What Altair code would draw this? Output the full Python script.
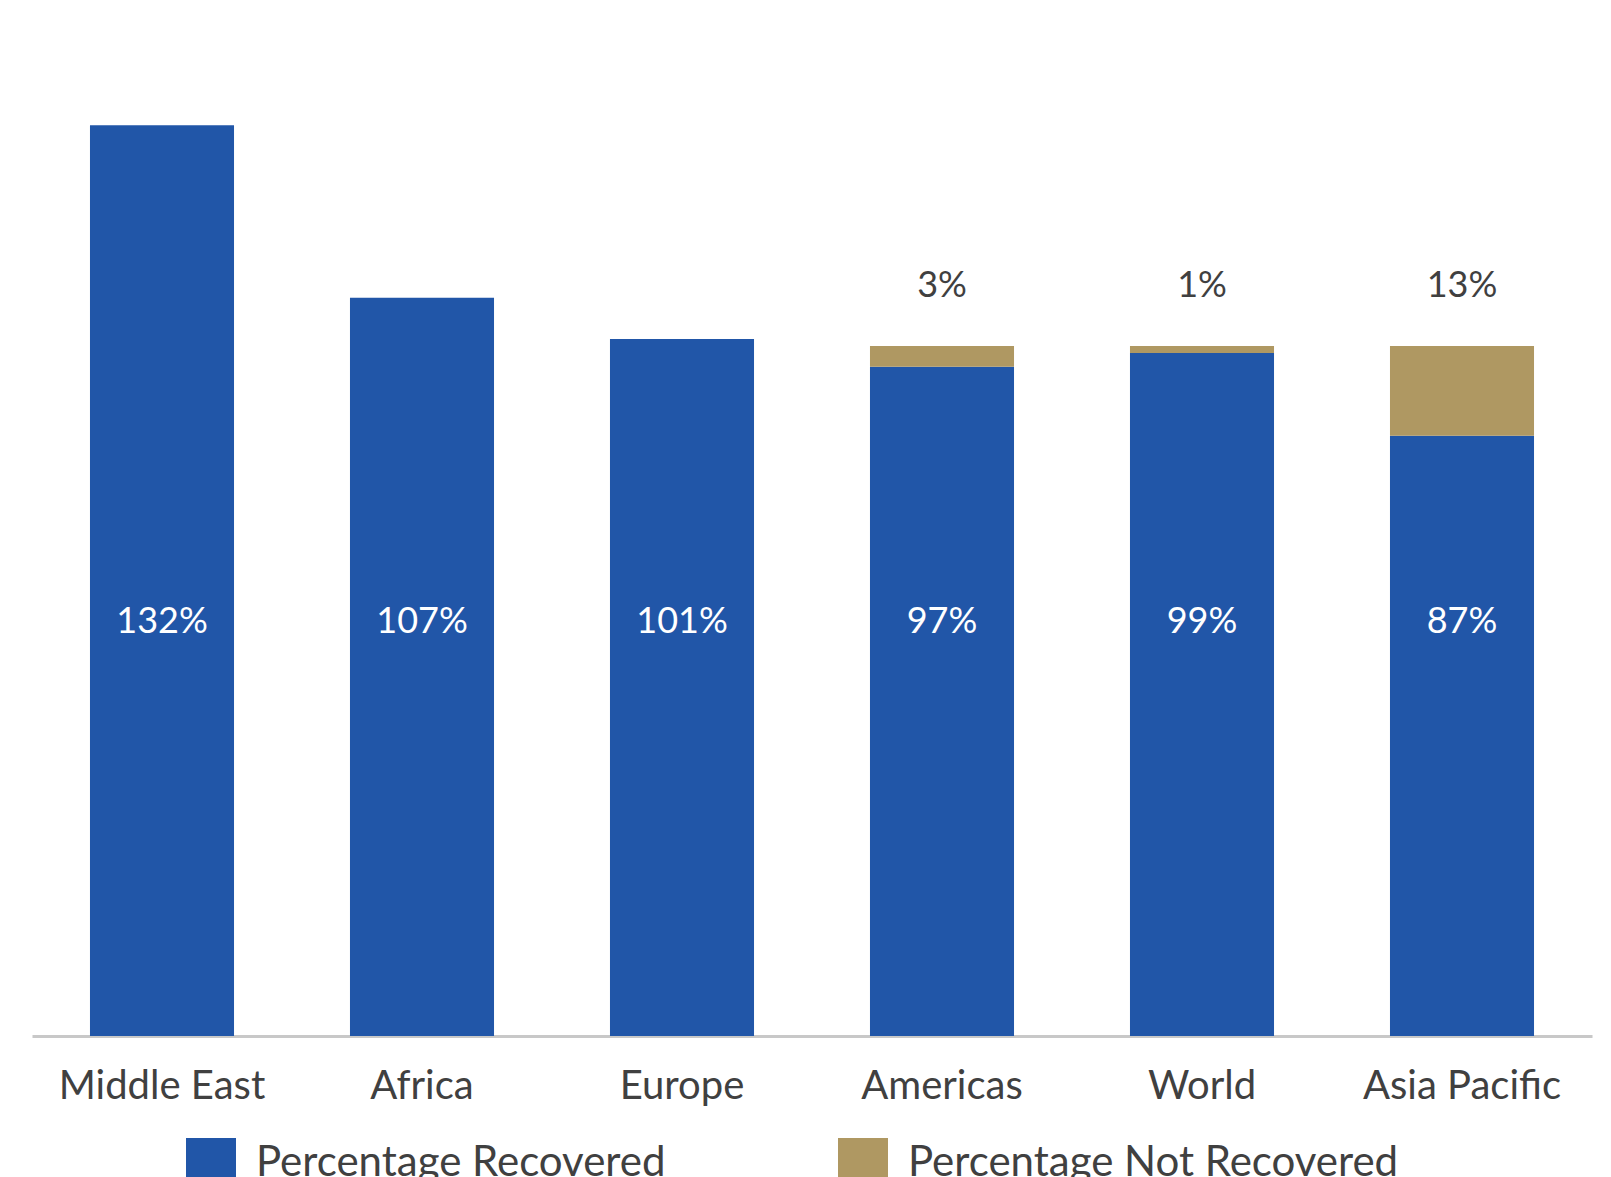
import altair as alt
import pandas as pd

regions = ["Middle East", "Africa", "Europe", "Americas", "World", "Asia Pacific"]
recovered = [132, 107, 101, 97, 99, 87]
not_recovered = [0, 0, 0, 3, 1, 13]
series_names = ["Percentage Recovered", "Percentage Not Recovered"]
colors = ["#2156A8", "#AF9862"]

rows = []
for r, a, b in zip(regions, recovered, not_recovered):
    rows.append({"region": r, "series": series_names[0], "value": a, "ord": 0})
    if b > 0:
        rows.append({"region": r, "series": series_names[1], "value": b, "ord": 1})
df = pd.DataFrame(rows)
df["label"] = df["value"].astype(str) + "%"

FONT = "Lato"
TXT = "#404040"

x_enc = alt.X("region:N", sort=regions, title=None,
              scale=alt.Scale(paddingInner=0.446, paddingOuter=0.223),
              axis=alt.Axis(labelFontSize=40, labelFont=FONT, labelColor=TXT,
                            labelPadding=30, ticks=False, domainColor="#C8C8C8",
                            domainWidth=3, labelAngle=0, labelLimit=500))
y_scale = alt.Scale(domain=[0, 140], nice=False)

bars = alt.Chart(df).mark_bar().encode(
    x=x_enc,
    y=alt.Y("value:Q", stack="zero", scale=y_scale, axis=None, title=None),
    color=alt.Color("series:N", scale=alt.Scale(domain=series_names, range=colors),
                    legend=alt.Legend(title=None, orient="none", direction="horizontal",
                                      legendX=154, legendY=1068, symbolType="square",
                                      symbolSize=2500, symbolStrokeWidth=0,
                                      labelFontSize=42, labelFont=FONT, labelColor=TXT,
                                      labelOffset=20, columnPadding=172, labelLimit=700)),
    order=alt.Order("ord:Q"),
)

in_labels = alt.Chart(df[df["ord"] == 0]).mark_text(
    color="white", fontSize=36, font=FONT, baseline="middle"
).encode(
    x=alt.X("region:N", sort=regions),
    y=alt.datum(60),
    text="label:N",
)

top_labels = alt.Chart(df[df["ord"] == 1]).mark_text(
    color=TXT, fontSize=36, font=FONT, baseline="middle"
).encode(
    x=alt.X("region:N", sort=regions),
    y=alt.datum(108.7),
    text="label:N",
)

chart = alt.layer(bars, in_labels, top_labels).properties(
    width=1560, height=966,
    autosize=alt.AutoSizeParams(type="none"),
    padding={"left": 24, "top": 62, "right": 10, "bottom": 160},
    background="white",
).configure_view(stroke=None)

chart.save("out.html", embed_options={"renderer": "svg", "actions": False})
